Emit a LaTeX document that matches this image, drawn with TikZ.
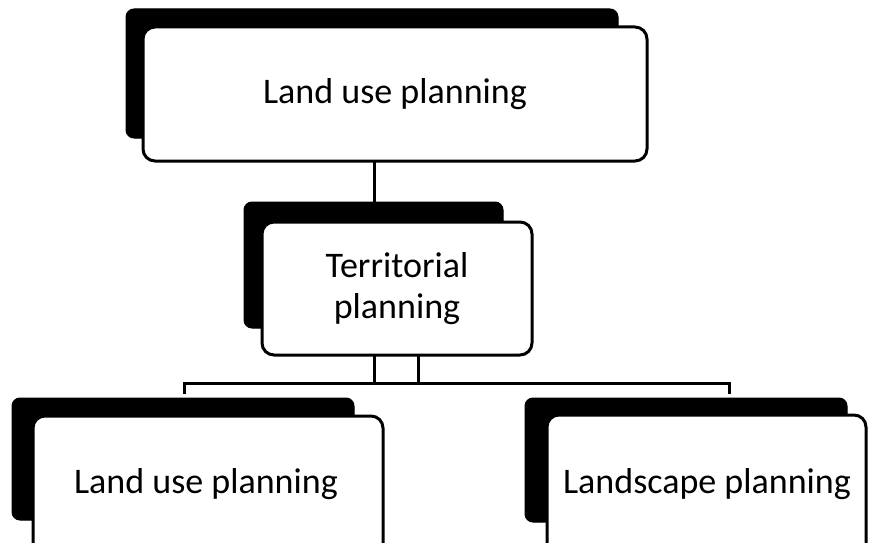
\documentclass[tikz,border=0pt]{standalone}
\usepackage{fontspec}
\setmainfont{Carlito}
\begin{document}
\begin{tikzpicture}[x=1pt,y=-1pt,
  shadowbox/.style={fill=black,draw=black,line width=1pt,rounded corners=8pt,inner sep=0pt},
  frontbox/.style={fill=white,draw=black,line width=3pt,rounded corners=12pt,inner sep=0pt,
    align=center,font=\fontsize{36}{41}\selectfont},
  conn/.style={draw=black,line width=3pt}]
\clip (0,0) rectangle (870,543);
\fill[white] (0,0) rectangle (870,543);
% connector top -> middle
\coordinate (c1) at (374,161);
\coordinate (c2) at (374,215);
\draw[conn] (c1) -- (c2);
% shadows
\node[shadowbox,minimum width=492pt,minimum height=129pt] (s1) at (372,73.5) {};
\node[shadowbox,minimum width=259pt,minimum height=126pt] (s2) at (373.5,265) {};
\node[shadowbox,minimum width=342pt,minimum height=122pt] (s3) at (183,459) {};
\node[shadowbox,minimum width=322pt,minimum height=124pt] (s4) at (686,460) {};
% front boxes
\node[frontbox,minimum width=504pt,minimum height=134pt] (top) at (395,94) {Land use planning};
\node[frontbox,minimum width=270pt,minimum height=133pt] (mid) at (397,288.5) {Territorial\\planning};
\node[frontbox,minimum width=350pt,minimum height=144pt] (bl) at (208,488) {};
\node[frontbox,minimum width=319pt,minimum height=145pt] (br) at (706.5,487.5) {};
\node[font=\fontsize{36}{41}\selectfont] (blt) at (206,484) {Land use planning};
\node[font=\fontsize{36}{41}\selectfont] (brt) at (707,484) {Landscape planning};
% connectors middle -> bottom
\coordinate (m1) at (374,355);
\coordinate (m2) at (418,355);
\coordinate (b1) at (374,383);
\coordinate (b2) at (418,383);
\coordinate (l1) at (184,383);
\coordinate (l2) at (184,394);
\coordinate (r1) at (729,383);
\coordinate (r2) at (729,394);
\draw[conn] (m1) -- (b1) -- (l1) -- (l2);
\draw[conn] (m2) -- (b2) -- (r1) -- (r2);
\draw[conn] (b1) -- (b2);
\end{tikzpicture}
\end{document}
